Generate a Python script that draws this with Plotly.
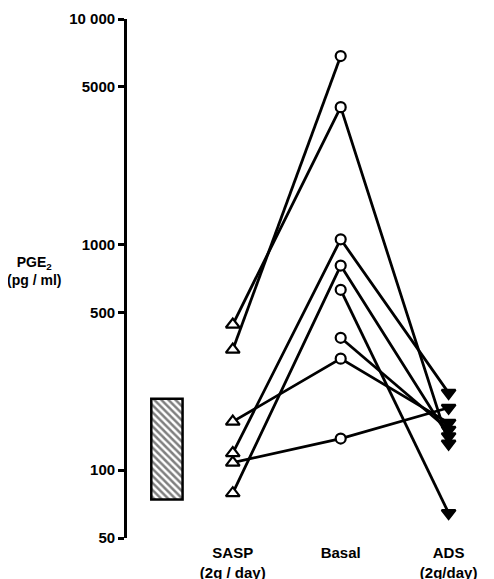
import plotly.graph_objects as go

# ---- data ----
groups = ["SASP<br>(2g / day)", "Basal", "ADS<br>(2g/day)"]
group_x = [1, 2, 3]
sasp = [342, 442, 119, 79, None, None, 164, 108]
basal = [6850, 4065, 1055, 807, 630, 386, 312, 138]
ads = [None, 131, 220, 141, 64.5, 151, 162, 189]
normal_low = 74
normal_high = 207
ytick_vals = [50, 100, 500, 1000, 5000, 10000]
ytick_text = ["50", "100", "500", "1000", "5000", "10 000"]

fig = go.Figure()

# normal range hatched box
fig.add_trace(go.Bar(
    x=[0.39], y=[normal_high - normal_low], base=[normal_low], width=[0.29],
    marker=dict(color="white", line=dict(color="black", width=2.5),
                pattern=dict(shape="\\", fgcolor="black", bgcolor="white", size=5, solidity=0.5)),
    showlegend=False, hoverinfo="skip"))

for s, b, a in zip(sasp, basal, ads):
    fig.add_trace(go.Scatter(
        x=group_x, y=[s, b, a], mode="lines+markers",
        line=dict(color="black", width=2.8),
        marker=dict(symbol=["triangle-up", "circle", "triangle-down"],
                    size=[12, 10, 12],
                    color=["white", "white", "black"],
                    opacity=1,
                    line=dict(color="black", width=2.2)),
        showlegend=False, hoverinfo="skip"))

bold = dict(family="Liberation Sans, Arial, sans-serif", size=14, color="black", weight="bold")

fig.update_layout(
    width=486, height=571,
    margin=dict(l=119, r=13, t=11, b=41),
    paper_bgcolor="white", plot_bgcolor="white",
    font=bold,
    xaxis=dict(range=[0.02, 3.3], showgrid=False, zeroline=False, showline=False,
               tickvals=group_x, ticktext=groups, ticks="", tickfont=dict(size=15),
               ticklabelstandoff=4, automargin=False),
    yaxis=dict(type="log", range=[1.69897, 4], showgrid=False, zeroline=False,
               showline=True, linecolor="black", linewidth=2.8,
               ticks="outside", ticklen=6, tickwidth=2.8, tickcolor="black",
               tickvals=ytick_vals, ticktext=ytick_text, tickfont=dict(size=15),
               automargin=False),
    annotations=[dict(text="PGE<sub>2</sub><br>(pg / ml)", xref="paper", yref="paper",
                      x=-0.262, y=0.515, xanchor="center", yanchor="middle",
                      showarrow=False, font=dict(size=14), align="center")],
)

fig.write_html("out.html")
